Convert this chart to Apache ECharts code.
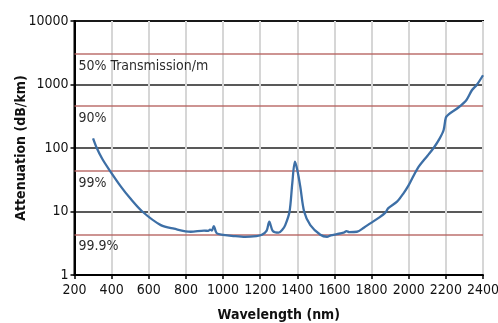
<!doctype html>
<html lang="en">
<head>
<meta charset="utf-8"/>
<title>Attenuation vs wavelength</title>
<style>
  html, body { margin: 0; padding: 0; background: #fff; }
  #chart { width: 498px; height: 323px; }
</style>
</head>
<body>
<div id="chart"></div>
<script src="https://cdn.jsdelivr.net/npm/echarts@6/dist/echarts.min.js"></script>
<script>
  // wavelength (nm) and attenuation (dB/km)
  const wavelengths = [
    300, 320, 350, 391, 450, 500, 565, 665, 736, 826, 898, 920, 930, 940,
    950, 966, 1000, 1056, 1119, 1180, 1209, 1235, 1249, 1268, 1299, 1320,
    1335, 1358, 1373, 1387, 1400, 1416, 1437, 1470, 1524, 1560, 1580, 1613,
    1649, 1665, 1680, 1721, 1760, 1793, 1840, 1874, 1890, 1937, 1970, 2000,
    2048, 2100, 2134, 2167, 2188, 2200, 2215, 2269, 2311, 2341, 2368, 2400,
  ];
  const attenuation = [
    142, 100, 67, 43.6, 24.6, 16.1, 10, 6.1, 5.36, 4.8, 5.0, 4.95, 5.2, 5.0,
    5.9, 4.54, 4.3, 4.11, 3.98, 4.1, 4.3, 5.0, 6.9, 4.93, 4.64, 5.2,
    6.1, 9.9, 28, 61, 45, 24.6, 9.9, 6.1, 4.3, 4.0, 4.2, 4.4,
    4.64, 4.9, 4.75, 4.8, 5.6, 6.5, 8.0, 9.6, 11.3, 14.3, 19, 26,
    47.9, 75, 100, 142, 192, 300, 339, 438, 570, 819, 1000, 1400,
  ];

  // transmission reference lines (dB/km) and their labels
  const refValues = [3010, 457.6, 43.65, 4.345];
  const refLabels = ["50% Transmission/m", "90%", "99%", "99.9%"];

  const FONT = '"Liberation Sans Narrow", "DejaVu Sans Condensed", "Arial Narrow", sans-serif';

  const chart = echarts.init(document.getElementById("chart"), null, { renderer: "canvas" });
  chart.setOption({
    animation: false,
    grid: {
      left: 74.5, right: 15, top: 21, bottom: 48,
      outerBoundsMode: "none", containLabel: false,
      show: true, borderColor: "#000", borderWidth: 2,
    },
    xAxis: {
      type: "value", min: 200, max: 2400, interval: 200,
      name: "Wavelength (nm)", nameLocation: "middle", nameGap: 33,
      nameMoveOverlap: false,
      nameTextStyle: { fontFamily: FONT, fontWeight: "bold", fontSize: 14, color: "#111" },
      axisLine: { lineStyle: { color: "#000", width: 2 } },
      axisTick: { show: true, length: 4, lineStyle: { color: "#000", width: 1.5 } },
      axisLabel: {
        fontFamily: FONT, fontSize: 14, color: "#111", margin: 8,
        showMinLabel: true, showMaxLabel: true, hideOverlap: false,
        formatter: (v) => String(v),
      },
      splitLine: { show: true, lineStyle: { color: "#d6d6d6", width: 2 } },
    },
    yAxis: {
      type: "log", logBase: 10, min: 1, max: 10000,
      name: "Attenuation (dB/km)", nameLocation: "middle", nameGap: 46,
      nameMoveOverlap: false,
      nameTextStyle: { fontFamily: FONT, fontWeight: "bold", fontSize: 14, color: "#111" },
      axisLine: { lineStyle: { color: "#000", width: 2 } },
      axisTick: { show: true, length: 4, lineStyle: { color: "#000", width: 1.5 } },
      axisLabel: {
        fontFamily: FONT, fontSize: 14, color: "#111", margin: 6,
        formatter: (v) => String(Math.round(v)),
      },
      splitLine: { show: true, lineStyle: { color: "#222", width: 1.5 } },
    },
    series: [
      {
        type: "line",
        data: wavelengths.map((w, i) => [w, attenuation[i]]),
        showSymbol: false,
        smooth: 0.3,
        lineStyle: { color: "#3d6fa6", width: 2.3 },
        z: 5,
        markLine: {
          silent: true,
          symbol: "none",
          lineStyle: { color: "#b5605e", width: 1.5, type: "solid", opacity: 0.9 },
          label: {
            show: true, position: "insideStartBottom",
            fontFamily: FONT, fontSize: 14, color: "#111",
            distance: [4, 5],
          },
          data: refValues.map((v, i) => ({
            yAxis: v,
            label: { formatter: refLabels[i] },
          })),
        },
      },
    ],
  });
</script>
</body>
</html>
